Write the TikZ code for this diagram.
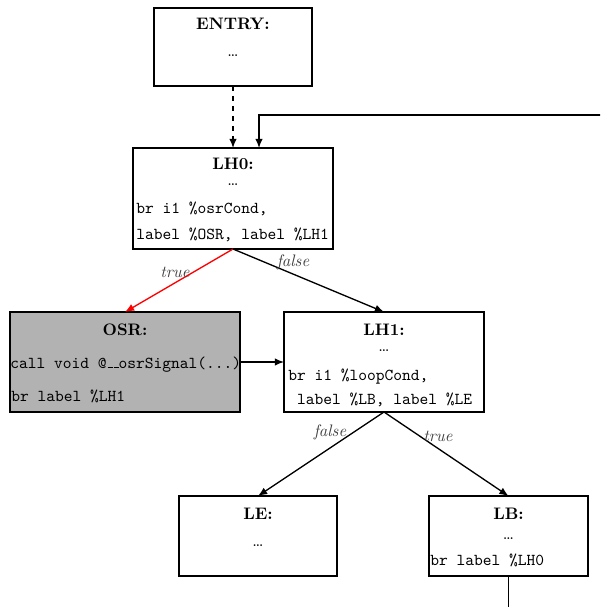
\documentclass[tikz,border=0pt]{standalone}
\usetikzlibrary{arrows.meta,calc}
\newcommand\usc{\leavevmode\kern.06em\vbox{\hrule width.3em}}
\begin{document}
\begin{tikzpicture}[x=0.6pt,y=-0.6pt,
  blk/.style 2 args={draw, line width=0.9pt, minimum width=#1*0.6pt, minimum height=#2*0.6pt, inner sep=0pt, outer sep=0pt},
  ttl/.style={font=\bfseries, anchor=base, inner sep=0pt},
  dts/.style={anchor=base, inner sep=0pt},
  code/.style={font=\ttfamily, anchor=base west, inner sep=0pt},
  lbl/.style={font=\itshape, text=black!75, inner sep=0pt},
  edge/.style={line width=0.8pt, -{Latex[length=5.5pt,width=4.5pt]}}]
\useasboundingbox (0,0) rectangle (600,607);
\clip (0,0) rectangle (600,607);
% boxes
\node[blk={158}{78}] (entry) at (233,47) {};
\node[blk={200}{101}] (lh0) at (233,198.5) {};
\node[blk={230}{100}, fill=black!30] (osr) at (125,362) {};
\node[blk={200}{100}] (lh1) at (384,362) {};
\node[blk={158}{80}] (le) at (258,536) {};
\node[blk={159}{80}] (lb) at (508.5,536) {};
% texts
\node[ttl] (entryT) at (233,30) {ENTRY:};
\node[dts] (entryD) at (233,57) {\dots};
\node[ttl] (lh0T) at (233,170) {LH0:};
\node[dts] (lh0D) at (233,186) {\dots};
\node[code] (lh0A) at (136,214) {br i1 \%osrCond,};
\node[code] (lh0B) at (136,240) {label \%OSR, label \%LH1};
\node[ttl] (osrT) at (125,335) {OSR:};
\node[code] (osrA) at (10,368) {call void @\usc\usc osrSignal(...)};
\node[code] (osrB) at (11,401) {br label \%LH1};
\node[ttl] (lh1T) at (384,335) {LH1:};
\node[dts] (lh1D) at (384,351) {\dots};
\node[code] (lh1A) at (288,380) {br i1 \%loopCond,};
\node[code] (lh1B) at (288,404) {\ label \%LB, label \%LE};
\node[ttl] (leT) at (258,519) {LE:};
\node[dts] (leD) at (258,546) {\dots};
\node[ttl] (lbT) at (508.5,519) {LB:};
\node[dts] (lbD) at (508.5,539) {\dots};
\node[code] (lbA) at (430,565) {br label \%LH0};
% edges
\coordinate (loopx) at (259,0);
\draw[edge, dashed] (entry.south) -- (lh0.north);
\draw[edge] (lb.south) -- (508.5,660) -- (660,660) -- (660,115) -| (lh0.north -| loopx);
\draw[edge, red] (lh0.south) -- (osr.north);
\draw[edge] (lh0.south) -- (lh1.north);
\draw[edge] (osr.east) -- (lh1.west);
\draw[edge] (lh1.south) -- (le.north);
\draw[edge] (lh1.south) -- (lb.north);
% labels
\node[lbl] (tr1) at (175,272) {true};
\node[lbl] (fa1) at (293,262) {false};
\node[lbl] (fa2) at (330,432) {false};
\node[lbl] (tr2) at (438,436) {true};
\end{tikzpicture}
\end{document}
